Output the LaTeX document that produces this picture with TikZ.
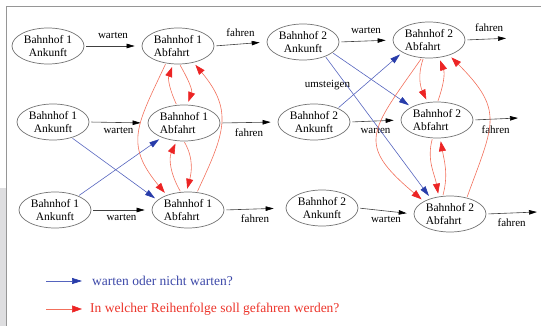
\documentclass[tikz,border=0pt]{standalone}
\usepackage{fontspec}
\setmainfont{Liberation Serif}
\usetikzlibrary{arrows.meta,shapes.geometric}

\definecolor{framegray}{RGB}{150,150,150}
\definecolor{patchgray}{RGB}{222,222,224}
\definecolor{wartblue}{RGB}{85,100,190}
\definecolor{wartbluetip}{RGB}{40,60,170}
\definecolor{folgered}{RGB}{242,112,92}
\definecolor{folgeredtip}{RGB}{236,36,36}
\definecolor{legblue}{RGB}{60,72,168}
\definecolor{legred}{RGB}{236,52,42}

\tikzset{
	station/.style={ellipse, draw=black!55, line width=0.7pt, minimum width=72pt, minimum height=36pt, inner sep=0pt, font=\fontsize{11.5}{12.5}\selectfont},
	lbl/.style={font=\fontsize{11}{12}\selectfont, inner sep=1pt},
	move/.style={draw=black!75, line width=0.6pt, -{Triangle[length=8pt,width=4.5pt,color=black]}, shorten <=2pt, shorten >=7pt},
	wahl/.style={draw=wartblue, line width=0.6pt, -{Triangle[length=10pt,width=6pt,color=wartbluetip]}, shorten <=1pt, shorten >=3pt},
	folge/.style={draw=folgered, line width=0.6pt, -{Triangle[length=10pt,width=7pt,color=folgeredtip]}, shorten <=1pt, shorten >=3pt}
}

\begin{document}
\begin{tikzpicture}[x=1pt,y=1pt]
			%%%%% START %%%%%
			
			\useasboundingbox (0,0) rectangle (541,-326);
			\fill[patchgray] (0,-188) rectangle (5.5,-326);
			\draw[framegray, line width=1pt] (6,-326) -- (6,-6.5) -- (541,-6.5);
			
			\node[station, align=center] (a1a) at (48,-46) {Bahnhof 1\\Ankunft};
			\node[station, align=left] (d1a) at (178,-46) {Bahnhof 1\\Abfahrt};
			\node[station, align=center] (a2a) at (303,-42) {Bahnhof 2\\Ankunft};
			\node[station, align=left] (d2a) at (429,-40) {Bahnhof 2\\Abfahrt};
			
			\node[station, align=center] (a1b) at (53,-122) {Bahnhof 1\\Ankunft};
			\node[station, align=left] (d1b) at (184,-123) {Bahnhof 1\\Abfahrt};
			\node[station, align=center] (a2b) at (314,-122) {Bahnhof 2\\Ankunft};
			\node[station, align=left] (d2b) at (437,-120) {Bahnhof 2\\Abfahrt};
			
			\node[station, align=center] (a1c) at (55,-210) {Bahnhof 1\\Ankunft};
			\node[station, align=left] (d1c) at (188,-210) {Bahnhof 1\\Abfahrt};
			\node[station, align=center] (a2c) at (322,-208) {Bahnhof 2\\Ankunft};
			\node[station, align=left] (d2c) at (450,-214) {Bahnhof 2\\Abfahrt};
			
			\coordinate (enda) at (513,-38);
			\coordinate (endb) at (518,-118);
			\coordinate (endc) at (537,-212);
			
			% warten / fahren
			\draw[move] (a1a.east) -- node[lbl, above=6pt] (w1a) {warten} (d1a.west);
			\draw[move] (d1a.east) -- node[lbl, above=6pt] (f1a) {fahren} (a2a.west);
			\draw[move] (a2a.east) -- node[lbl, above=6pt] (w2a) {warten} (d2a.west);
			\draw[move] (d2a.east) -- node[lbl, above=6pt] (f2a) {fahren} (enda);
			
			\draw[move] (a1b.east) -- node[lbl, below=4pt] (w1b) {warten} (d1b.west);
			\draw[move] (d1b.east) -- node[lbl, below=5pt] (f1b) {fahren} (a2b.west);
			\draw[move] (a2b.east) -- node[lbl, below=5pt] (w2b) {warten} (d2b.west);
			\draw[move, shorten >=0pt] (d2b.east) -- node[lbl, below=5pt] (f2b) {fahren} (endb);
			
			\draw[move] (a1c.east) -- node[lbl, below=3pt] (w1c) {warten} (d1c.west);
			\draw[move, shorten >=12pt] (d1c.east) -- node[lbl, below=4pt] (f1c) {fahren} (a2c.west);
			\draw[move] (a2c.east) -- node[lbl, below=4pt] (w2c) {warten} (d2c.west);
			\draw[move, shorten >=0pt] (d2c.east) -- node[lbl, below=4pt] (f2c) {fahren} (endc);
			
			% umsteigen
			\draw[wahl] (a1b.-40) -- (d1c.162);
			\draw[wahl] (a1c.31) -- (d1b.-147);
			\draw[wahl] (a2a.-20) -- (d2b.153);
			\draw[wahl] (a2a.-33) -- node[lbl, pos=0.2, left=-5pt] (umst) {umsteigen} (d2c.141);
			\draw[wahl] (a2b.30) -- (d2a.-155);
			
			% Reihenfolge Bahnhof 1
			\draw[folge] (d1a.-85) to[out=-60, in=70] (d1b.80);
			\draw[folge] (d1b.112) to[out=115, in=-110] (d1a.-105);
			\draw[folge] (d1a.-125) to[out=-115, in=130, looseness=1.3] (d1c.145);
			\draw[folge] (d1c.63) to[out=65, in=-50, looseness=1.25] (d1a.-47);
			\draw[folge] (d1b.-90) to[out=-60, in=75] (d1c.95);
			\draw[folge] (d1c.112) to[out=120, in=-115] (d1b.-112);
			
			% Reihenfolge Bahnhof 2
			\draw[folge] (d2a.-107) to[out=-110, in=115] (d2b.118);
			\draw[folge] (d2b.88) to[out=70, in=-70] (d2a.-60);
			\draw[folge] (d2a.-112) to[out=-125, in=140, looseness=1.6] (d2c.154);
			\draw[folge] (d2c.44) to[out=70, in=-45, looseness=1.4] (d2a.-37);
			\draw[folge] (d2b.-104) to[out=-105, in=100] (d2c.123);
			\draw[folge] (d2c.112) to[out=75, in=-80] (d2b.-80);
			
			% Legende
			\coordinate (lega) at (45,-281);
			\coordinate (legb) at (45,-309);
			\node[anchor=west, inner sep=0pt, text=legblue, font=\fontsize{13.5}{15}\selectfont] (legwahl) at (92,-281) {warten oder nicht warten?};
			\node[anchor=west, inner sep=0pt, text=legred, font=\fontsize{13.5}{15}\selectfont] (legfolge) at (90,-309) {In welcher Reihenfolge soll gefahren werden?};
			\draw[wahl, shorten >=10pt] (lega) -- (legwahl.west);
			\draw[folge, shorten >=8pt] (legb) -- (legfolge.west);
			
			%%%%% END %%%%%
		\end{tikzpicture}
\end{document}
